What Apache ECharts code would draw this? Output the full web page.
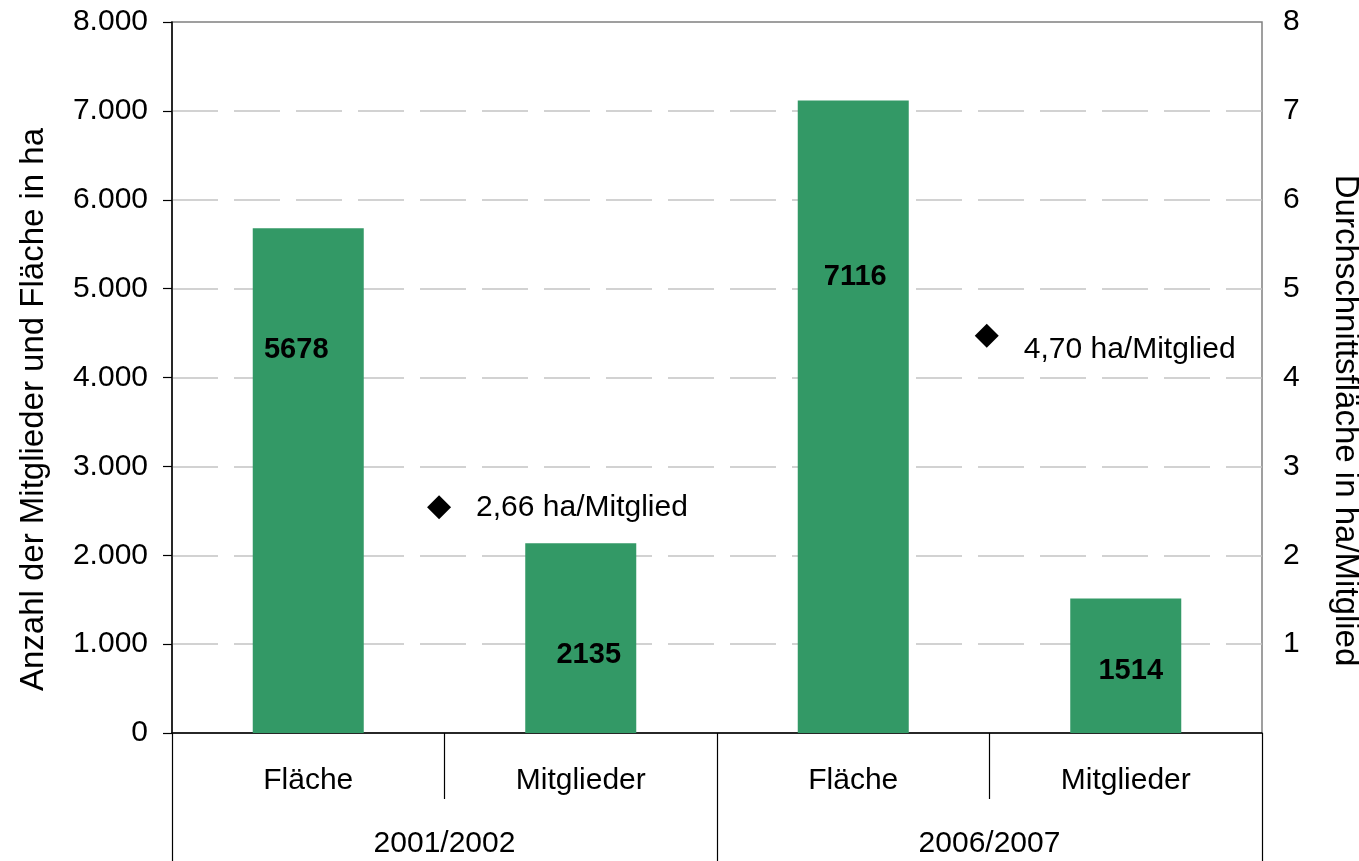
<!DOCTYPE html>
<html>
<head>
<meta charset="utf-8">
<title>Mitglieder und Fläche</title>
<script src="https://cdn.jsdelivr.net/npm/echarts@6/dist/echarts.min.js"></script>
<style>
  html, body { margin: 0; padding: 0; background: #fff; }
  #chart { width: 1359px; height: 861px; }
</style>
</head>
<body>
<div id="chart"></div>
<script>
// Daten
var categories = ["Fläche", "Mitglieder", "Fläche", "Mitglieder"];
var groups = ["2001/2002", "2006/2007"];
var barValues = [5678, 2135, 7116, 1514];
var avgX = [0.98, 2.99];
var avgValues = [2.54, 4.47];
var avgLabels = ["2,66 ha/Mitglied", "4,70 ha/Mitglied"];
var leftTicks = [0, 1000, 2000, 3000, 4000, 5000, 6000, 7000, 8000];
var rightTicks = [1, 2, 3, 4, 5, 6, 7, 8];

var FONT = "Liberation Sans, Arial, sans-serif";
var FS = 30;       // normale Beschriftung
var FS_TITLE = 33; // Achsentitel

// Label-Versatz je Balken
var barLabelOffset = [[-12, 102], [8, 92], [2, 157], [5, 53]];

var barData = barValues.map(function (v, i) {
    return {
        value: v,
        label: { offset: barLabelOffset[i] }
    };
});

var avgData = avgValues.map(function (v, i) {
    return {
        value: [avgX[i], v],
        label: { formatter: avgLabels[i], offset: i === 1 ? [0, 14] : [0, 0] }
    };
});

var chart = echarts.init(document.getElementById("chart"));

var option = {
    animation: false,
    backgroundColor: "#fff",
    textStyle: { fontFamily: FONT },
    grid: {
        left: 172, right: 97, top: 22, bottom: 128,
        containLabel: false,
        outerBoundsMode: "none",
        show: true, borderColor: "#808080", borderWidth: 1.5,
        backgroundColor: "transparent"
    },
    xAxis: [
        {
            type: "category",
            data: categories,
            position: "bottom",
            axisLine: { onZero: false, lineStyle: { color: "#000", width: 1.5 } },
            axisTick: { show: true, length: 66, lineStyle: { color: "#000", width: 1.2 } },
            axisLabel: { color: "#000", fontSize: FS, fontFamily: FONT, margin: 33 },
            splitLine: { show: false }
        },
        {
            type: "category",
            data: groups,
            position: "bottom",
            offset: 66,
            axisLine: { show: true, onZero: false, lineStyle: { color: "#000", opacity: 0 } },
            axisTick: { show: true, length: 70, lineStyle: { color: "#000", width: 1.2 } },
            axisLabel: { color: "#000", fontSize: FS, fontFamily: FONT, margin: 30 },
            splitLine: { show: false }
        },
        {
            type: "value",
            min: 0, max: 4,
            show: false,
            splitLine: { show: false }
        }
    ],
    yAxis: [
        {
            type: "value",
            min: leftTicks[0],
            max: leftTicks[leftTicks.length - 1],
            interval: 1000,
            name: "Anzahl der Mitglieder und Fläche in ha",
            nameLocation: "middle",
            nameGap: 122,
            nameTextStyle: { color: "#000", fontSize: FS_TITLE, fontFamily: FONT, padding: [0, 64, 0, 0] },
            axisLine: { show: true, lineStyle: { color: "#000", width: 1.5 } },
            axisTick: { show: true, length: 9, lineStyle: { color: "#000", width: 1.2 } },
            axisLabel: {
                color: "#000", fontSize: FS, fontFamily: FONT, margin: 24,
                formatter: function (v) {
                    return v === 0 ? "0" : (v / 1000) + ".000";
                }
            },
            splitLine: {
                show: true, showMinLine: false, showMaxLine: false,
                lineStyle: { color: "#c4c4c4", width: 1.5, type: [46, 16] }
            }
        },
        {
            type: "value",
            min: 0,
            max: rightTicks[rightTicks.length - 1],
            interval: 1,
            position: "right",
            name: "Durchschnittsfläche in ha/Mitglied",
            nameLocation: "middle",
            nameRotate: -90,
            nameGap: 67,
            nameTextStyle: { color: "#000", fontSize: FS_TITLE, fontFamily: FONT, padding: [0, 0, 0, 86] },
            axisLine: { show: false },
            axisTick: { show: false },
            axisLabel: {
                color: "#000", fontSize: FS, fontFamily: FONT, margin: 21,
                formatter: function (v) {
                    return rightTicks.indexOf(v) >= 0 ? String(v) : "";
                }
            },
            splitLine: { show: false }
        }
    ],
    series: [
        {
            type: "bar",
            xAxisIndex: 0,
            yAxisIndex: 0,
            data: barData,
            barWidth: 111,
            itemStyle: { color: "#339966" },
            label: {
                show: true,
                position: "insideTop",
                color: "#000",
                fontWeight: "bold",
                fontSize: 29,
                fontFamily: FONT
            }
        },
        {
            type: "scatter",
            xAxisIndex: 2,
            yAxisIndex: 1,
            data: avgData,
            symbol: "diamond",
            symbolSize: 24,
            itemStyle: { color: "#000", opacity: 1 },
            label: {
                show: true,
                position: "right",
                distance: 25,
                color: "#000",
                opacity: 1,
                fontSize: FS,
                fontFamily: FONT
            }
        }
    ]
};

chart.setOption(option);
</script>
</body>
</html>
